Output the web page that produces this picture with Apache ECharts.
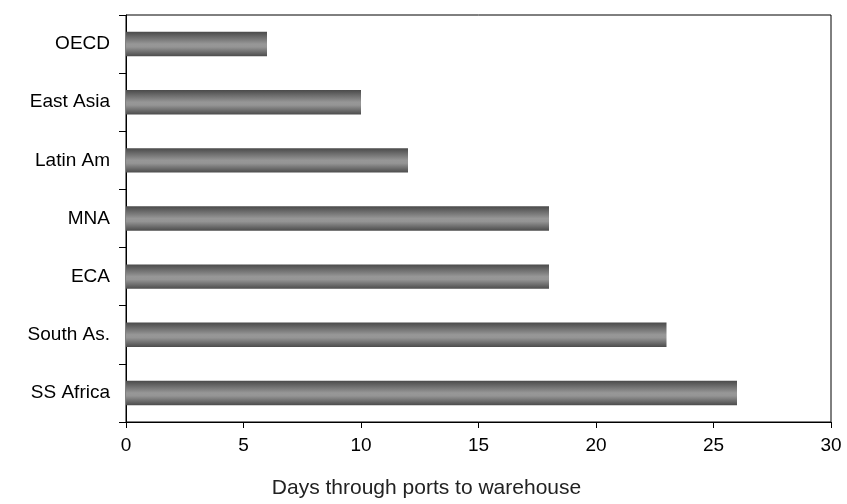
<!DOCTYPE html>
<html>
<head>
<meta charset="utf-8">
<script src="https://cdn.jsdelivr.net/npm/echarts@6/dist/echarts.min.js"></script>
<style>
html,body{margin:0;padding:0;background:#fff;}
#chart{width:847px;height:504px;}
</style>
</head>
<body>
<div id="chart"></div>
<script>
var categories = ['OECD', 'East Asia', 'Latin Am', 'MNA', 'ECA', 'South As.', 'SS Africa'];
var days = [6, 10, 12, 18, 18, 23, 26];
var xTicks = [0, 5, 10, 15, 20, 25, 30];
var xAxisTitle = 'Days through ports to warehouse';

var chart = echarts.init(document.getElementById('chart'), null, {renderer: 'canvas'});
var font = '"Liberation Sans", Arial, sans-serif';
chart.setOption({
  animation: false,
  grid: {left: 126, right: 16, top: 15, bottom: 82, show: true, borderColor: '#000', borderWidth: 1, backgroundColor: 'transparent'},
  xAxis: {
    type: 'value',
    min: xTicks[0],
    max: xTicks[xTicks.length - 1],
    interval: 5,
    name: xAxisTitle,
    nameLocation: 'middle',
    nameGap: 56,
    nameTextStyle: {fontFamily: font, fontSize: 21, color: '#222', padding: [0, 104, 0, 0]},
    axisLine: {show: true, lineStyle: {color: '#000', width: 1}},
    axisTick: {show: true, length: 6, lineStyle: {color: '#000'}},
    axisLabel: {fontFamily: font, fontSize: 19, color: '#000', margin: 14},
    splitLine: {show: false}
  },
  yAxis: {
    type: 'category',
    data: categories,
    inverse: true,
    axisLine: {show: true, lineStyle: {color: '#000', width: 1}},
    axisTick: {show: true, length: 7, lineStyle: {color: '#000'}},
    axisLabel: {fontFamily: font, fontSize: 19, color: '#000', margin: 16},
    splitLine: {show: false}
  },
  series: [{
    type: 'bar',
    data: days,
    barWidth: '42%',
    itemStyle: {
      color: new echarts.graphic.LinearGradient(0, 0, 0, 1, [
        {offset: 0, color: '#4a4a4a'},
        {offset: 0.5, color: '#979797'},
        {offset: 0.62, color: '#959595'},
        {offset: 1, color: '#4c4c4c'}
      ])
    }
  }]
});
</script>
</body>
</html>
